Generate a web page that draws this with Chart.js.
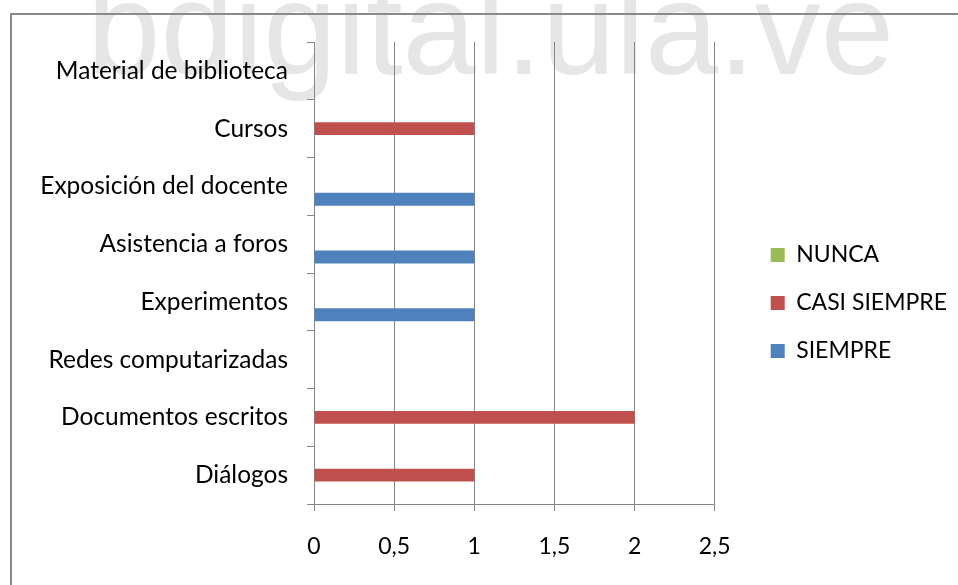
<!DOCTYPE html>
<html>
<head>
<meta charset="utf-8">
<script src="https://cdn.jsdelivr.net/npm/chart.js@4.4.1/dist/chart.umd.min.js"></script>
<style>
  html, body { margin: 0; padding: 0; background: #fff; }
  #wrap { width: 958px; height: 585px; }
</style>
</head>
<body>
<div id="wrap"><canvas id="chart" width="958" height="585"></canvas></div>
<script>
// Categories, listed top to bottom
const categories = [
    'Material de biblioteca',
    'Cursos',
    'Exposición del docente',
    'Asistencia a foros',
    'Experimentos',
    'Redes computarizadas',
    'Documentos escritos',
    'Diálogos'
];

const nunca = [0, 0, 0, 0, 0, 0, 0, 0];
const casiSiempre = [0, 1, 0, 0, 0, 0, 2, 1];
const siempre = [0, 0, 1, 1, 1, 0, 0, 0];

const xTicks = [0, 0.5, 1, 1.5, 2, 2.5];

const LABEL_FONT = { family: 'Lato', size: 24.5 };
const FONT = { family: 'Lato', size: 23 };
const GRID = '#878787';

// Watermark and cropped frame behind the chart
const backdrop = {
    id: 'backdrop',
    beforeDraw(chart) {
        const ctx = chart.ctx;
        ctx.save();
        ctx.fillStyle = '#e6e6e6';
        ctx.font = '132px "Liberation Sans"';
        ctx.textBaseline = 'alphabetic';
        ctx.fillText('bdigital.ula.ve', 87, 74);
        ctx.strokeStyle = '#8a8a8a';
        ctx.lineWidth = 2;
        ctx.beginPath();
        ctx.moveTo(11, chart.height);
        ctx.lineTo(11, 14);
        ctx.lineTo(chart.width, 14);
        ctx.stroke();
        ctx.restore();
    }
};

// Push the legend away from the plot area (and nudge it down a little)
const legendGap = {
    id: 'legendGap',
    afterLayout(chart) {
        chart.legend.left += 31;
        chart.legend.right += 31;
        chart.legend.top += 2;
        chart.legend.bottom += 2;
    }
};

const initChart = () => {
    const ctx = document.getElementById('chart').getContext('2d');
    new Chart(ctx, {
        type: 'bar',
        data: {
            labels: categories,
            datasets: [
                { label: 'NUNCA', data: nunca, backgroundColor: '#9bbb59', borderWidth: 0 },
                { label: 'CASI SIEMPRE', data: casiSiempre, backgroundColor: '#c0504d', borderWidth: 0 },
                { label: 'SIEMPRE', data: siempre, backgroundColor: '#4f81bd', borderWidth: 0 }
            ]
        },
        options: {
            indexAxis: 'y',
            responsive: false,
            animation: false,
            categoryPercentage: 0.675,
            barPercentage: 1,
            layout: {
                padding: { left: 20, top: 42, right: 32, bottom: 25 }
            },
            plugins: {
                tooltip: { enabled: false },
                legend: {
                    position: 'right',
                    labels: {
                        boxWidth: 14,
                        boxHeight: 14,
                        padding: 25,
                        color: '#000',
                        font: FONT
                    }
                }
            },
            scales: {
                x: {
                    min: 0,
                    max: 2.5,
                    afterBuildTicks: (scale) => {
                        scale.ticks = xTicks.map(v => ({ value: v }));
                    },
                    afterFit: (scale) => { scale.height = 56; },
                    ticks: {
                        color: '#000',
                        font: FONT,
                        padding: 22,
                        callback: (v) => String(v).replace('.', ',')
                    },
                    grid: { color: GRID, tickLength: 7, tickColor: GRID },
                    border: { color: GRID }
                },
                y: {
                    offset: true,
                    afterFit: (scale) => { scale.width = 314 - 20; },
                    ticks: {
                        color: '#000',
                        font: LABEL_FONT,
                        padding: 19
                    },
                    grid: {
                        offset: true,
                        drawOnChartArea: false,
                        tickLength: 7,
                        color: GRID
                    },
                    border: { color: GRID }
                }
            }
        },
        plugins: [backdrop, legendGap]
    });
};

document.addEventListener('DOMContentLoaded', initChart);
</script>
</body>
</html>
